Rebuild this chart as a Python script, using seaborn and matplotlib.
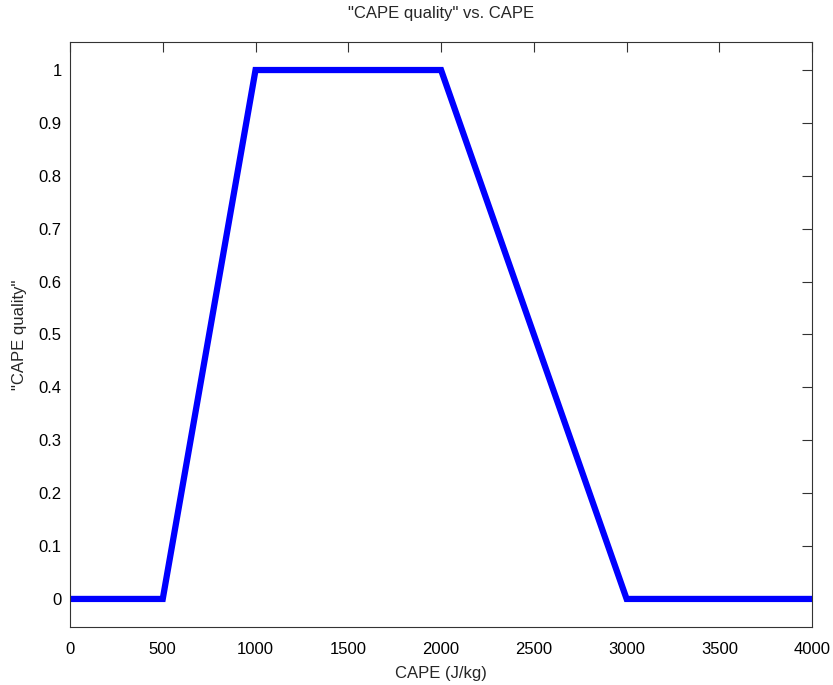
import matplotlib
matplotlib.use("Agg")
import matplotlib.pyplot as plt
import seaborn as sns
import pandas as pd

cape = [0, 500, 1000, 2000, 3000, 4000]
quality = [0, 0, 1, 1, 0, 0]
xticks = [0, 500, 1000, 1500, 2000, 2500, 3000, 3500, 4000]
yticks = [0, 0.1, 0.2, 0.3, 0.4, 0.5, 0.6, 0.7, 0.8, 0.9, 1]
ytick_labels = ["0", "0.1", "0.2", "0.3", "0.4", "0.5", "0.6", "0.7", "0.8", "0.9", "1"]

sns.set_style("white")
plt.rcParams['font.family'] = ['Liberation Sans', 'DejaVu Sans']

df = pd.DataFrame({"CAPE": cape, "quality": quality})
fig = plt.figure(figsize=(8.33, 6.85), dpi=100)
ax = fig.add_axes([0.084, 0.0847, 0.891, 0.854])
sns.lineplot(data=df, x="CAPE", y="quality", ax=ax, color="#0000ff", linewidth=4.5,
             solid_joinstyle="miter")
ax.set_xlim(0, 4000)
ax.set_ylim(-0.053, 1.053)
ax.set_xticks(xticks)
ax.set_xticklabels([str(t) for t in xticks])
ax.set_yticks(yticks)
ax.set_yticklabels(ytick_labels)
ax.tick_params(direction="in", length=7, width=0.8, top=True, right=True,
               labelsize=12, colors="#333333", labelcolor="black")
ax.tick_params(axis="x", pad=11)
ax.tick_params(axis="y", pad=6)
for s in ax.spines.values():
    s.set_visible(True)
    s.set_color("#333333")
    s.set_linewidth(0.8)
ax.set_xlabel("CAPE (J/kg)", fontsize=12, labelpad=6)
ax.set_ylabel('"CAPE quality"', fontsize=12, labelpad=8)
ax.set_title('"CAPE quality" vs. CAPE', fontsize=12, pad=17)
fig.savefig("out.png", dpi=100, facecolor="white")
